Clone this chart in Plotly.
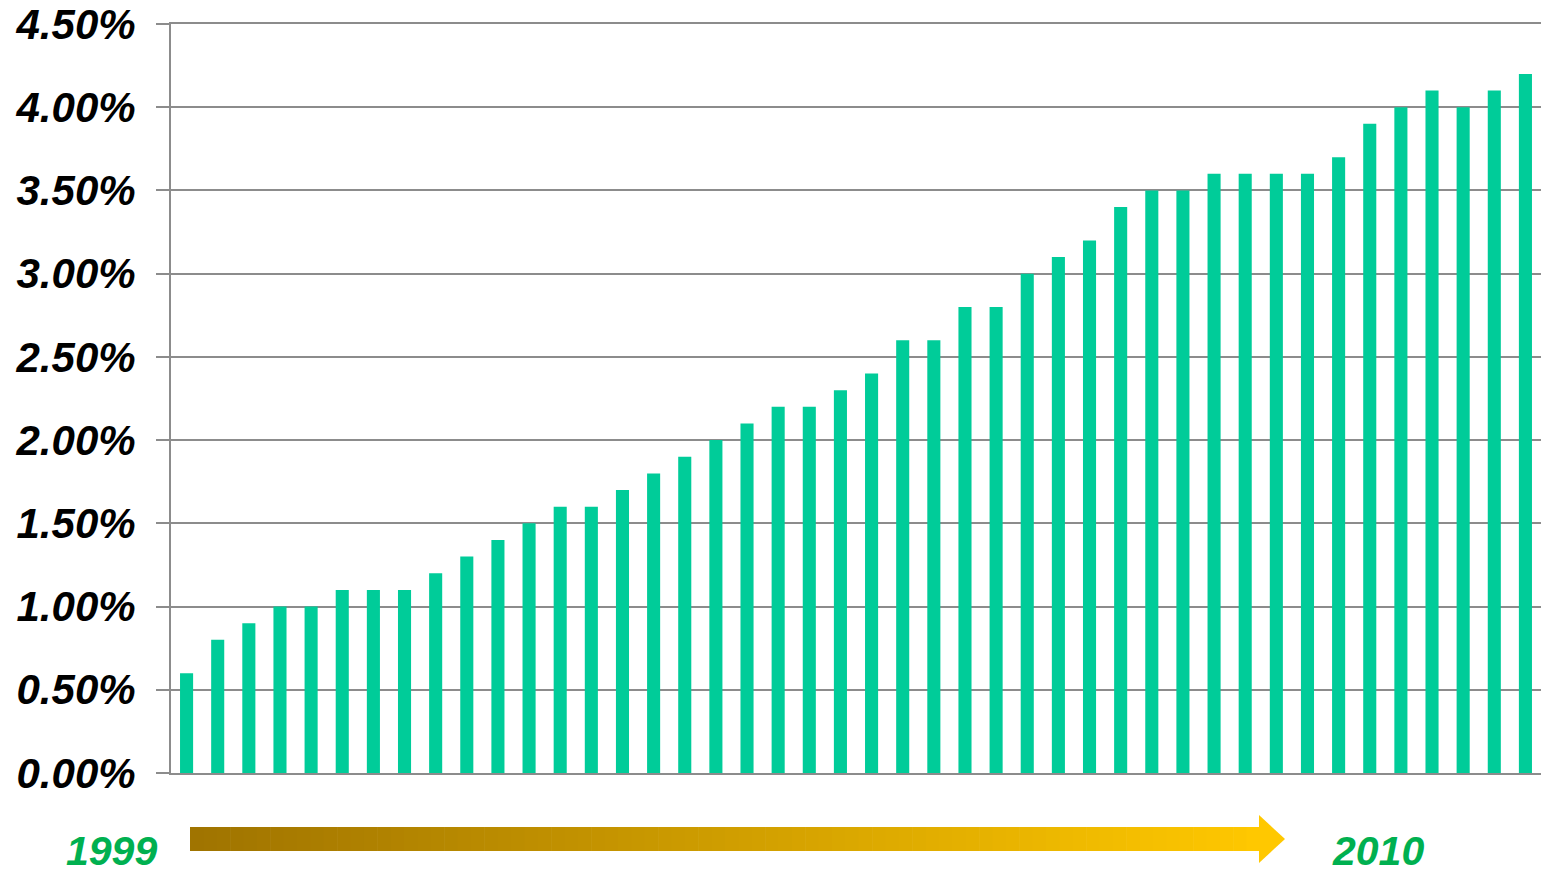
import plotly.graph_objects as go

# Data (percent)
values = [0.6, 0.8, 0.9, 1.0, 1.0, 1.1, 1.1, 1.1, 1.2, 1.3, 1.4, 1.5, 1.6, 1.6, 1.7,
          1.8, 1.9, 2.0, 2.1, 2.2, 2.2, 2.3, 2.4, 2.6, 2.6, 2.8, 2.8, 3.0, 3.1, 3.2,
          3.4, 3.5, 3.5, 3.6, 3.6, 3.6, 3.6, 3.7, 3.9, 4.0, 4.1, 4.0, 4.1, 4.2]
periods = list(range(len(values)))
tick_vals = [0, 0.5, 1.0, 1.5, 2.0, 2.5, 3.0, 3.5, 4.0, 4.5]
tick_text = ["%.2f%%" % v for v in tick_vals]
start_label = "1999"
end_label = "2010"

W, H = 1547, 875
L, R, T, B = 171, 6, 24, 102

fig = go.Figure()
fig.add_trace(go.Bar(x=periods, y=values, marker=dict(color="#00CC99", line=dict(width=0)),
                     hoverinfo="y"))

fig.update_layout(
    width=W, height=H,
    margin=dict(l=L, r=R, t=T, b=B, autoexpand=False),
    paper_bgcolor="white", plot_bgcolor="rgba(0,0,0,0)",
    bargap=0.58, showlegend=False,
    font=dict(family="Liberation Sans, Arial, sans-serif"),
)
fig.update_xaxes(range=[-0.5, len(values) - 0.5], showticklabels=False, showgrid=False,
                 zeroline=False, showline=True, linecolor="#8C8C8C", linewidth=2, ticks="",
                 mirror=True, automargin=False)
fig.update_yaxes(range=[0, 4.5], tickvals=tick_vals, ticktext=tick_text,
                 showgrid=True, gridcolor="#8C8C8C", gridwidth=1.5,
                 zeroline=False, showline=True, linecolor="#8C8C8C", linewidth=2,
                 ticks="outside", ticklen=13, tickcolor="#8C8C8C", tickwidth=1.5,
                 ticklabelstandoff=12, automargin=False,
                 tickfont=dict(size=42, color="black", style="italic", weight="bold",
                               family="Liberation Sans, Arial, sans-serif"))

# Gradient arrow (timeline) in pixel-based paper coords
def px(x):
    return (x - L) / (W - L - R)

def py(y):
    return (H - B - y) / (H - T - B)

x0, x1, xt = 190, 1260, 1285
yb0, yb1 = 827, 851
yh0, yh1, ymid = 815, 863, 839
c0 = (160, 116, 0)
c1 = (255, 200, 0)
n = 80
for i in range(n):
    a = x0 + (x1 - x0) * i / n
    b = x0 + (x1 - x0) * (i + 1) / n + 0.6
    f = i / (n - 1)
    col = "rgb(%d,%d,%d)" % tuple(int(c0[k] + (c1[k] - c0[k]) * f) for k in range(3))
    fig.add_shape(type="rect", xref="paper", yref="paper",
                  x0=px(a), x1=px(b), y0=py(yb1), y1=py(yb0),
                  fillcolor=col, line=dict(width=0), layer="above")
fig.add_shape(type="path", xref="paper", yref="paper",
              path="M %f %f L %f %f L %f %f Z" % (px(x1 - 1), py(yh0), px(xt), py(ymid), px(x1 - 1), py(yh1)),
              fillcolor="rgb(255,200,0)", line=dict(width=0))

year_font = dict(size=41, color="#00B050", style="italic", weight="bold",
                 family="Liberation Sans, Arial, sans-serif")
fig.add_annotation(text=start_label, xref="paper", yref="paper", x=px(111), y=py(851),
                   showarrow=False, xanchor="center", yanchor="middle", font=year_font)
fig.add_annotation(text=end_label, xref="paper", yref="paper", x=px(1378), y=py(851),
                   showarrow=False, xanchor="center", yanchor="middle", font=year_font)

fig.write_html("out.html")
